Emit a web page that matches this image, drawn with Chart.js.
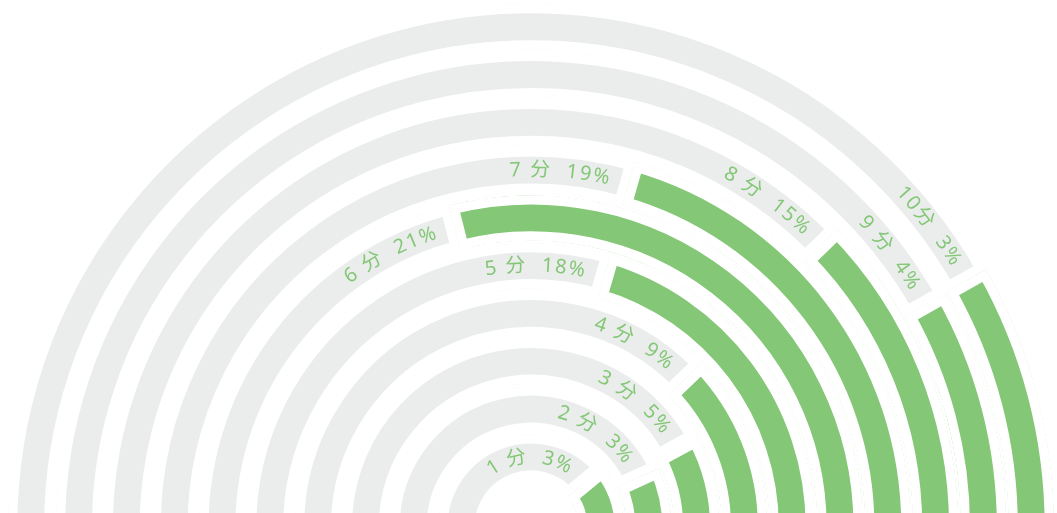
<!DOCTYPE html>
<html>
<head>
<meta charset="utf-8">
<script src="https://cdn.jsdelivr.net/npm/chart.js@4"></script>
<style>
  html, body { margin: 0; padding: 0; background: #fff; overflow: hidden; width: 1057px; height: 513px; }
  #wrap { position: absolute; left: -19px; top: -23px; width: 1100px; height: 1100px; }
</style>
</head>
<body>
<div id="wrap"><canvas id="chart"></canvas></div>
<script>
// rings from the inside (1分) out to 10分
const categories = ['1 分', '2 分', '3 分', '4 分', '5 分', '6 分', '7 分', '8 分', '9 分', '10分'];
const percents = [3, 3, 5, 9, 18, 21, 19, 15, 4, 3];
// length of each green bar on the half circle (out of 180)
const barAngles = [39.5, 24.6, 28.5, 43.8, 73.7, 104.3, 74.1, 44.2, 29.4, 29.5];
const halfTurn = 180;

const GREEN = '#84c776';
const GREY = '#ebeded';
const NONE = 'rgba(0,0,0,0)';

const datasets = [];
for (let i = categories.length - 1; i >= 0; i--) {
    datasets.push({
        ring: i,
        data: [halfTurn - barAngles[i], barAngles[i], halfTurn],
        backgroundColor: [GREY, GREEN, NONE],
        borderColor: '#fff',
        borderWidth: [9, 9, 0],
        borderAlign: 'inner',
        weight: 45.5
    });
    if (i > 0) {
        // white space between two rings
        datasets.push({ data: [1], backgroundColor: NONE, borderWidth: 0, weight: 2.3 });
    }
}

// text written along each ring, ending just before the green bar
const arcLabels = {
    id: 'arcLabels',
    afterDatasetsDraw(chart) {
        const ctx = chart.ctx;
        const spacing = 2;
        const gap = 20;
        ctx.save();
        ctx.font = '20px "Noto Sans", "Noto Sans CJK SC", sans-serif';
        ctx.fillStyle = GREEN;
        ctx.textAlign = 'center';
        ctx.textBaseline = 'middle';
        chart.data.datasets.forEach((ds, di) => {
            if (ds.ring === undefined) return;
            const arc = chart.getDatasetMeta(di).data[1];
            const { x, y, innerRadius, outerRadius, startAngle } =
                arc.getProps(['x', 'y', 'innerRadius', 'outerRadius', 'startAngle'], true);
            const r = (innerRadius + outerRadius) / 2;
            const chars = [...(categories[ds.ring] + '  ' + percents[ds.ring] + '%')];
            const widths = chars.map(c => ctx.measureText(c).width);
            const total = widths.reduce((a, b) => a + b, 0) + spacing * (chars.length - 1);
            let a = startAngle - (gap + total) / r;
            chars.forEach((c, k) => {
                const mid = a + widths[k] / 2 / r;
                ctx.save();
                ctx.translate(x + r * Math.cos(mid), y + r * Math.sin(mid));
                ctx.rotate(mid + Math.PI / 2);
                ctx.fillText(c, 0, 0);
                ctx.restore();
                a += (widths[k] + spacing) / r;
            });
        });
        ctx.restore();
    }
};

new Chart(document.getElementById('chart'), {
    type: 'doughnut',
    data: { labels: ['rest', 'value', ''], datasets: datasets },
    options: {
        responsive: true,
        maintainAspectRatio: false,
        animation: false,
        events: [],
        rotation: -90,
        circumference: 360,
        radius: 523,
        cutout: (47.3 / 523 * 100) + '%',
        layout: { padding: 0 },
        plugins: { legend: { display: false }, tooltip: { enabled: false } }
    },
    plugins: [arcLabels]
});
</script>
</body>
</html>
